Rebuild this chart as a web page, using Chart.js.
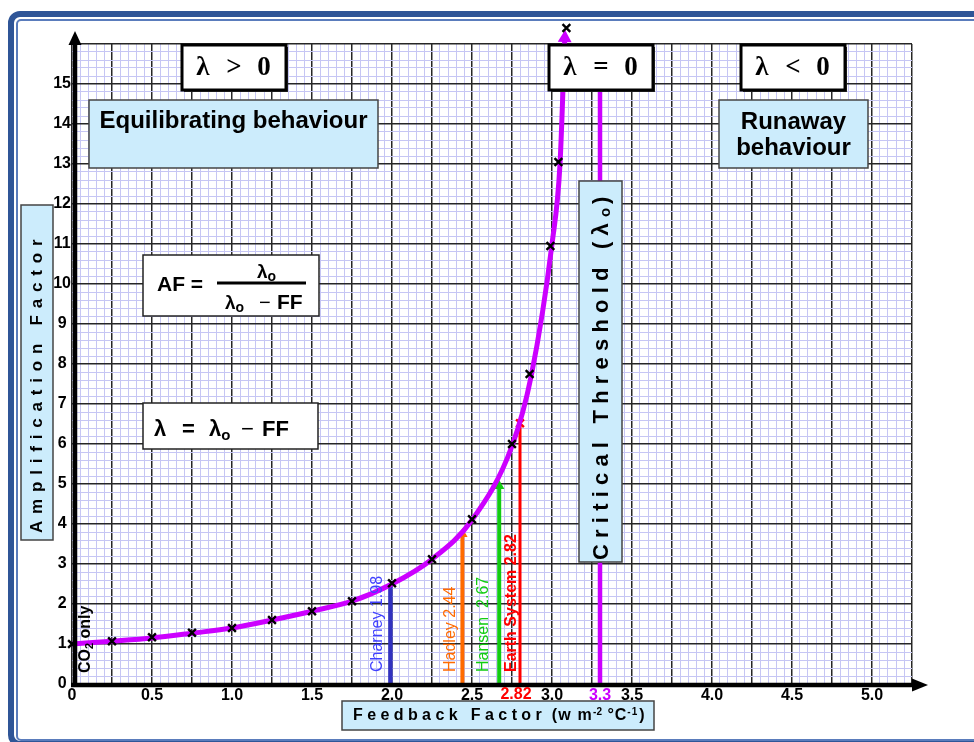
<!DOCTYPE html>
<html><head><meta charset="utf-8">
<script src="https://cdn.jsdelivr.net/npm/chart.js@4.4.1/dist/chart.umd.min.js"></script>
<style>html,body{margin:0;padding:0;background:#fff;overflow:hidden}canvas{display:block}</style>
</head><body>
<canvas id="c" width="974" height="742"></canvas>
<script>
// ---------- data ----------
const curveFF = [0, 0.25, 0.5, 0.75, 1.0, 1.25, 1.5, 1.75, 2.0, 2.25, 2.5, 2.75, 2.87, 3.0, 3.05, 3.08];
const curveAF = [1.0, 1.07, 1.15, 1.27, 1.4, 1.6, 1.82, 2.07, 2.5, 3.12, 4.1, 5.95, 7.7, 11.0, 13.0, 16.15];
const markerFF = [0, 0.25, 0.5, 0.75, 1.0, 1.25, 1.5, 1.75, 2.0, 2.25, 2.5, 2.75, 2.86, 2.99, 3.04, 3.09];
const markerAF = [1.0, 1.07, 1.17, 1.28, 1.4, 1.6, 1.82, 2.07, 2.52, 3.12, 4.12, 6.0, 7.75, 10.95, 13.05, 16.4];
const estimateNames = ['Charney 1.98', 'Hadley 2.44', 'Hansen  2.67', 'Earth System 2.82'];
const estimateFF = [1.99, 2.44, 2.67, 2.80];
const estimateTopAF = [2.5, 3.75, 4.95, 6.52];
const thresholdFF = 3.3;
const thresholdTopAF = 16;
const xLabelValues = [0, 0.5, 1.0, 1.5, 2.0, 2.5, 3.0, 3.3, 3.5, 4.0, 4.5, 5.0];
const yLabelValues = [0, 1, 2, 3, 4, 5, 6, 7, 8, 9, 10, 11, 12, 13, 14, 15];
const earthLabel = '2.82';

// ---------- styles ----------
const SANS = '"Liberation Sans", Arial, sans-serif';
const SERIF = '"Liberation Serif", "Times New Roman", serif';
const MAG = '#cc00ff';
const estColors = ['#3232c0', '#ff6a00', '#12cc12', '#ff0000'];
const estTextColors = ['#4040ff', '#ff6a00', '#12cc12', '#ff0000'];
const estFonts = ['16px ' + SANS, '16px ' + SANS, '16px ' + SANS, 'bold 16px ' + SANS];
const estTextOffset = [-12.5, -11.5, -15.5, -8.5];
const estWidths = [4.5, 4, 4, 3];
const near = (a, b) => Math.abs(a - b) < 1e-6;
const onStep = (v, s) => Math.abs(v / s - Math.round(v / s)) < 1e-6;

const pts = (xs, ys) => xs.map((x, i) => ({x, y: ys[i]}));

const datasets = [];
datasets.push({ // markers
  type: 'scatter', data: pts(markerFF, markerAF), showLine: false, clip: false,
  pointStyle: 'crossRot', pointRadius: 5.5, pointBorderWidth: 2.4,
  pointBorderColor: '#000', pointBackgroundColor: '#000', pointHoverRadius: 5.5
});
datasets.push({ // curve
  type: 'line', data: pts(curveFF, curveAF), borderColor: MAG, borderWidth: 5,
  cubicInterpolationMode: 'monotone', clip: false, fill: false,
  pointStyle: 'triangle', pointRotation: 2,
  pointRadius: curveFF.map((v, i) => i === curveFF.length - 1 ? 8 : 0),
  pointHoverRadius: 0, pointBorderWidth: 0, pointBackgroundColor: MAG
});
estimateFF.forEach((f, i) => {
  datasets.push({
    type: 'line', data: [{x: f, y: 0}, {x: f, y: estimateTopAF[i]}],
    borderColor: estColors[i], borderWidth: estWidths[i], fill: false,
    pointStyle: i === 3 ? 'crossRot' : 'triangle',
    pointRadius: [0, i === 0 ? 0 : (i === 3 ? 5.5 : 6)], pointHoverRadius: 0,
    pointBorderWidth: i === 3 ? 2.4 : 0,
    pointBorderColor: estColors[i], pointBackgroundColor: estColors[i]
  });
});
datasets.push({
  type: 'line', data: [{x: thresholdFF, y: 0}, {x: thresholdFF, y: thresholdTopAF}],
  borderColor: MAG, borderWidth: 4.5, pointRadius: 0, pointHoverRadius: 0, fill: false
});

// ---------- helpers for annotation text ----------
function drawSegs(ctx, segs, x, y) {
  let cx = x;
  for (const s of segs) {
    ctx.font = s.font;
    if (s.color) ctx.fillStyle = s.color;
    for (const ch of s.t) { ctx.fillText(ch, cx, y + (s.dy || 0)); cx += ctx.measureText(ch).width + (s.sp || 0); }
  }
  return cx;
}
function rotSegs(ctx, segs, cx, bottomY, color) {
  ctx.save();
  ctx.translate(cx, bottomY);
  ctx.rotate(-Math.PI / 2);
  ctx.textBaseline = 'middle';
  ctx.fillStyle = color;
  drawSegs(ctx, segs, 0, 0);
  ctx.restore();
}
function box(ctx, x1, y1, x2, y2, fill, stroke, lw) {
  ctx.save();
  ctx.fillStyle = fill; ctx.fillRect(x1, y1, x2 - x1, y2 - y1);
  ctx.strokeStyle = stroke; ctx.lineWidth = lw; ctx.strokeRect(x1, y1, x2 - x1, y2 - y1);
  ctx.restore();
}

const deco = {
  id: 'deco',
  beforeDraw(chart) {
    const ctx = chart.ctx;
    ctx.save();
    ctx.fillStyle = '#fff'; ctx.fillRect(0, 0, chart.width, chart.height);
    ctx.strokeStyle = '#2f5597'; ctx.lineWidth = 6;
    ctx.beginPath(); ctx.roundRect(11, 14, 1000, 730, 9); ctx.stroke();
    ctx.strokeStyle = '#5a7cbc'; ctx.lineWidth = 2;
    ctx.beginPath(); ctx.roundRect(17, 20, 990, 720, 4); ctx.stroke();
    ctx.restore();
  },
  afterDatasetsDraw(chart) {
    // markers lying above the plot area (Chart.js skips points outside the area)
    const ctx = chart.ctx, area = chart.chartArea;
    const meta = chart.getDatasetMeta(0);
    meta.data.forEach(el => {
      if (el.y < area.top - 4) {
        Chart.helpers.drawPoint(ctx, {pointStyle: 'crossRot', radius: 5.5, borderWidth: 2.4, rotation: 0}, el.x, el.y);
      }
    });
  },
  afterDraw(chart) {
    const ctx = chart.ctx, xs = chart.scales.x, ys = chart.scales.y;
    const x0 = xs.getPixelForValue(0) + 3, y0 = ys.getPixelForValue(0) + 1;
    ctx.save();
    // axes with arrows
    ctx.fillStyle = '#000';
    ctx.fillRect(x0 - 2.25, ys.top - 2, 4.5, y0 - ys.top + 4);
    ctx.fillRect(xs.left - 1, y0 - 2.25, xs.right - xs.left + 4, 4.5);
    ctx.beginPath(); ctx.moveTo(x0 - 6.5, ys.top + 1); ctx.lineTo(x0 + 6.5, ys.top + 1); ctx.lineTo(x0, ys.top - 13); ctx.closePath(); ctx.fill();
    ctx.beginPath(); ctx.moveTo(xs.right, y0 - 6.5); ctx.lineTo(xs.right, y0 + 6.5); ctx.lineTo(xs.right + 16, y0); ctx.closePath(); ctx.fill();

    // red 2.82 label on the x axis
    ctx.font = 'bold 16px ' + SANS; ctx.fillStyle = '#ff0000'; ctx.textAlign = 'center'; ctx.textBaseline = 'middle';
    ctx.fillText(earthLabel, xs.getPixelForValue(estimateFF[3]) - 4, y0 + 9.5);
    ctx.textAlign = 'left';

    // vertical estimate labels
    estimateNames.forEach((n, i) => {
      rotSegs(ctx, [{t: n, font: estFonts[i]}], xs.getPixelForValue(estimateFF[i]) + estTextOffset[i], 672, estTextColors[i]);
    });
    rotSegs(ctx, [{t: 'CO', font: 'bold 16px ' + SANS}, {t: '2', font: 'bold 11px ' + SANS, dy: 4}, {t: ' only', font: 'bold 16px ' + SANS}], 86, 673, '#000');

    // lambda boxes
    const lam = [[182, 286, '>'], [549, 653, '='], [741, 845, '<']];
    lam.forEach(([a, b, s]) => {
      ctx.fillStyle = '#333'; ctx.fillRect(a + 2, 47, b - a, 45);
      box(ctx, a, 45, b, 90, '#fff', '#000', 3);
      const c = (a + b) / 2;
      ctx.fillStyle = '#000'; ctx.font = 'bold 27px ' + SERIF; ctx.textAlign = 'center'; ctx.textBaseline = 'middle';
      ctx.fillText('λ', c - 31, 68); ctx.fillText(s, c, 68); ctx.fillText('0', c + 30, 68);
    });

    // behaviour boxes
    box(ctx, 89, 100, 378, 168, '#ccecfc', '#444', 1.5);
    box(ctx, 719, 100, 868, 168, '#ccecfc', '#444', 1.5);
    ctx.fillStyle = '#000'; ctx.font = 'bold 24px ' + SANS; ctx.textAlign = 'center'; ctx.textBaseline = 'middle';
    ctx.fillText('Equilibrating behaviour', 233.5, 121);
    ctx.fillText('Runaway', 793.5, 122);
    ctx.fillText('behaviour', 793.5, 148);

    // formula boxes
    box(ctx, 143, 255, 319, 316, '#fff', '#222', 1.5);
    box(ctx, 143, 403, 318, 449, '#fff', '#222', 1.5);
    ctx.textAlign = 'left'; ctx.textBaseline = 'alphabetic'; ctx.fillStyle = '#000';
    drawSegs(ctx, [{t: 'AF =', font: 'bold 21px ' + SANS}], 157, 291);
    ctx.fillRect(217, 281.5, 89, 3);
    drawSegs(ctx, [{t: 'λ', font: 'bold 19px ' + SANS}, {t: 'o', font: 'bold 14px ' + SANS, dy: 3}], 257, 278);
    drawSegs(ctx, [{t: 'λ', font: 'bold 19px ' + SANS}, {t: 'o', font: 'bold 14px ' + SANS, dy: 3}], 225, 309);
    drawSegs(ctx, [{t: '−', font: '20px ' + SANS}], 259, 309);
    drawSegs(ctx, [{t: 'FF', font: 'bold 21px ' + SANS}], 277, 309);

    drawSegs(ctx, [{t: 'λ', font: 'bold 22px ' + SANS}], 154, 436);
    drawSegs(ctx, [{t: '=', font: 'bold 22px ' + SANS}], 182, 436);
    drawSegs(ctx, [{t: 'λ', font: 'bold 22px ' + SANS}, {t: 'o', font: 'bold 15px ' + SANS, dy: 4}], 209, 436);
    drawSegs(ctx, [{t: '−', font: '22px ' + SANS}], 241, 436);
    drawSegs(ctx, [{t: 'FF', font: 'bold 22px ' + SANS}], 262, 436);

    // critical threshold box
    box(ctx, 579, 181, 622, 562, '#ccecfc', '#444', 1.5);
    rotSegs(ctx, [{t: 'Critical Threshold (λ', font: 'bold 22px ' + SANS, sp: 6.2}, {t: 'o', font: 'bold 15px ' + SANS, dy: 4, sp: 4}, {t: ')', font: 'bold 22px ' + SANS}], 602, 560, '#000');

    // axis titles
    box(ctx, 21, 205, 53, 540, '#ccecfc', '#444', 1.5);
    rotSegs(ctx, [{t: 'Amplification Factor', font: 'bold 17px ' + SANS, sp: 6.8}], 37.5, 533, '#000');
    box(ctx, 342, 701, 654, 730, '#ccecfc', '#444', 1.5);
    ctx.textBaseline = 'middle'; ctx.fillStyle = '#000';
    let cx = drawSegs(ctx, [{t: 'Feedback Factor', font: 'bold 16px ' + SANS, sp: 4.4}], 353, 716);
    cx = drawSegs(ctx, [{t: ' (w m', font: 'bold 16px ' + SANS, sp: 1.2}], cx, 716);
    cx = drawSegs(ctx, [{t: '-2', font: 'bold 10px ' + SANS, dy: -4}], cx, 716);
    cx = drawSegs(ctx, [{t: ' °C', font: 'bold 16px ' + SANS, sp: 1}], cx, 716);
    cx = drawSegs(ctx, [{t: '-1', font: 'bold 10px ' + SANS, dy: -4, sp: 1}], cx, 716);
    drawSegs(ctx, [{t: ')', font: 'bold 16px ' + SANS}], cx + 1, 716);
    ctx.restore();
  }
};

new Chart(document.getElementById('c'), {
  data: {datasets},
  options: {
    responsive: false, animation: false, devicePixelRatio: 1,
    layout: {padding: {left: 0, right: 62, top: 44, bottom: 28}},
    plugins: {legend: {display: false}, tooltip: {enabled: false}},
    scales: {
      x: {
        type: 'linear', min: 0, max: 5.25,
        afterFit: s => { s.height = 30; },
        border: {display: false},
        grid: {
          drawTicks: false,
          color: c => onStep(c.tick.value, 0.25) ? '#262626' : '#c6c6f4',
          lineWidth: c => onStep(c.tick.value, 0.25) ? 1.5 : 1
        },
        ticks: {
          stepSize: 0.05, autoSkip: false, maxRotation: 0, minRotation: 0, padding: 2,
          font: {family: SANS, size: 16, weight: 'bold'},
          color: c => near(c.tick.value, thresholdFF) ? MAG : '#000',
          callback: v => xLabelValues.some(l => near(l, v)) ? (near(v, 0) ? '0' : Number(v).toFixed(1)) : ''
        }
      },
      y: {
        type: 'linear', min: 0, max: 16,
        afterFit: s => { s.width = 72; },
        border: {display: false},
        grid: {
          drawTicks: false,
          color: c => onStep(c.tick.value, 1) ? '#262626' : '#c6c6f4',
          lineWidth: c => onStep(c.tick.value, 1) ? 1.5 : 1
        },
        ticks: {
          stepSize: 0.2, autoSkip: false, padding: 1, crossAlign: 'center',
          font: {family: SANS, size: 16, weight: 'bold'}, color: '#000',
          callback: v => yLabelValues.some(l => near(l, v)) ? String(Math.round(v)) : ''
        }
      }
    }
  },
  plugins: [deco]
});
</script>
</body></html>
